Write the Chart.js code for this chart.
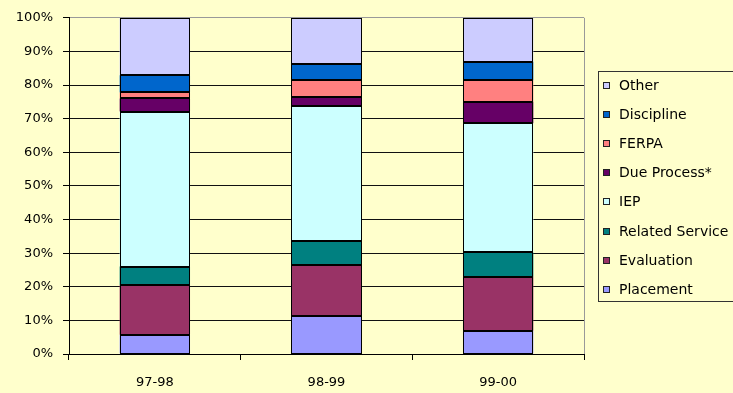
<!DOCTYPE html>
<html>
<head>
<meta charset="utf-8">
<script src="https://cdn.jsdelivr.net/npm/chart.js@4.4.1/dist/chart.umd.min.js"></script>
<style>
  html, body { margin: 0; padding: 0; background: #FFFFCC; width: 733px; height: 393px; overflow: hidden; }
  #wrap { position: relative; width: 733px; height: 393px; }
  #c { position: absolute; left: 0; top: 0; }
  #legend { position: absolute; left: 598px; top: 71px; width: 170px; height: 229px;
            border: 1px solid #333; font-family: "DejaVu Sans", sans-serif; font-size: 14px; color: #000; }
  .item { position: absolute; left: 0; height: 18px; line-height: 18px; white-space: nowrap; }
  .sw { position: absolute; left: 4px; top: 6px; width: 5px; height: 5px; border: 1px solid #222; }
  .lb { position: absolute; left: 20px; top: 0; }
</style>
</head>
<body>
<div id="wrap">
  <canvas id="c" width="733" height="393"></canvas>
  <div id="legend"></div>
</div>
<script>
// School years on the category axis
const categories = ['97-98', '98-99', '99-00'];

// Share of complaints by issue, percent of each year's total
const placement      = [5.7, 11.2, 6.9];
const evaluation     = [14.8, 15.3, 16.1];
const relatedService = [5.5, 7.2, 7.2];
const iep            = [46.1, 40.0, 38.4];
const dueProcess     = [3.9, 2.6, 6.4];
const ferpa          = [1.8, 5.2, 6.4];
const discipline     = [5.1, 4.9, 5.5];
const other          = [17.1, 13.6, 13.1];

// Value-axis ticks
const yTicks = [0, 10, 20, 30, 40, 50, 60, 70, 80, 90, 100];

const seriesNames  = ['Placement', 'Evaluation', 'Related Service', 'IEP', 'Due Process*', 'FERPA', 'Discipline', 'Other'];
const seriesData   = [placement, evaluation, relatedService, iep, dueProcess, ferpa, discipline, other];
const seriesColors = ['#9999FF', '#993366', '#008080', '#CCFFFF', '#660066', '#FF8080', '#0066CC', '#CCCCFF'];

const datasets = seriesNames.map((name, i) => ({
  label: name,
  data: seriesData[i],
  backgroundColor: seriesColors[i],
  borderWidth: 0,
  inflateAmount: 0,
  barPercentage: 0.41,
  categoryPercentage: 1.0
}));

// Page background, crisp black outlines round each bar segment,
// and a thin grey frame line along the right edge of the plot area
const plotFrame = {
  id: 'plotFrame',
  beforeDraw(chart) {
    const ctx = chart.ctx;
    ctx.save();
    ctx.fillStyle = '#FFFFCC';
    ctx.fillRect(0, 0, chart.width, chart.height);
    ctx.restore();
  },
  afterDatasetsDraw(chart) {
    const ctx = chart.ctx;
    ctx.save();
    ctx.strokeStyle = '#000';
    ctx.lineWidth = 1;
    chart.data.datasets.forEach((ds, di) => {
      chart.getDatasetMeta(di).data.forEach(bar => {
        const p = bar.getProps(['x', 'y', 'base', 'width'], true);
        const l = Math.round(p.x - p.width / 2) + 0.5;
        const r = Math.round(p.x + p.width / 2) - 0.5;
        const t = Math.round(Math.min(p.y, p.base)) + 0.5;
        const b = Math.round(Math.max(p.y, p.base)) - 0.5;
        ctx.strokeRect(l, t, r - l, b - t);
      });
    });
    ctx.restore();
  },
  afterDraw(chart) {
    const a = chart.chartArea;
    const ctx = chart.ctx;
    ctx.save();
    ctx.strokeStyle = '#999';
    ctx.lineWidth = 1;
    ctx.beginPath();
    ctx.moveTo(Math.round(a.right) + 0.5, a.top);
    ctx.lineTo(Math.round(a.right) + 0.5, a.bottom);
    ctx.stroke();
    ctx.restore();
  }
};

const axisFont = { family: 'DejaVu Sans', size: 13 };

new Chart(document.getElementById('c'), {
  type: 'bar',
  data: { labels: categories, datasets },
  options: {
    responsive: false,
    animation: false,
    devicePixelRatio: 1,
    layout: { padding: { top: 17, right: 149, left: 0, bottom: 0 } },
    plugins: { legend: { display: false }, tooltip: { enabled: false } },
    scales: {
      x: {
        stacked: true,
        offset: true,
        grid: { display: true, drawOnChartArea: false, drawTicks: true, tickLength: 6, color: '#000', offset: true },
        border: { color: '#000', width: 1 },
        ticks: { color: '#000', font: axisFont, padding: 15, maxRotation: 0 },
        afterFit(s) { s.height = 39; }
      },
      y: {
        stacked: true,
        min: 0,
        max: 100,
        afterBuildTicks(s) { s.ticks = yTicks.map(v => ({ value: v })); },
        grid: {
          color: ctx => (ctx.tick && ctx.tick.value === 100 ? '#999' : '#111'),
          tickColor: '#000',
          tickLength: 6,
          lineWidth: 1
        },
        border: { color: '#000', width: 1 },
        ticks: { color: '#000', font: axisFont, padding: 10, callback: v => v + '%' },
        afterFit(s) { s.width = 69; }
      }
    }
  },
  plugins: [plotFrame]
});

// Legend, listed top-down in stack order (last series first)
const legend = document.getElementById('legend');
seriesNames.slice().reverse().forEach((name, i) => {
  const idx = seriesNames.length - 1 - i;
  const item = document.createElement('div');
  item.className = 'item';
  item.style.top = (13 + i * 29.1 - 9) + 'px';
  const sw = document.createElement('span');
  sw.className = 'sw';
  sw.style.background = seriesColors[idx];
  const lb = document.createElement('span');
  lb.className = 'lb';
  lb.textContent = name;
  item.appendChild(sw);
  item.appendChild(lb);
  legend.appendChild(item);
});
</script>
</body>
</html>
